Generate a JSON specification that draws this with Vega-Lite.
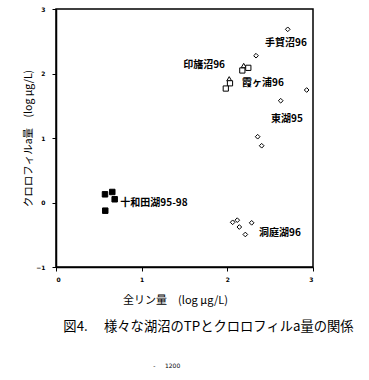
{
  "$schema": "https://vega.github.io/schema/vega-lite/v6.json",
  "autosize": "none",
  "width": 257,
  "height": 258,
  "padding": {"left": 56, "top": 9, "right": 56, "bottom": 113},
  "background": "white",
  "config": {
    "view": {"stroke": "black", "strokeWidth": 1.5},
    "font": "Noto Sans CJK JP"
  },
  "title": {
    "text": "図4.　 様々な湖沼のTPとクロロフィルa量の関係",
    "subtitle": "-\u00a0\u00a0\u00a0\u00a0\u00a01200\u2800\u2800\u2800\u2800\u2800\u2800\u2800\u2800\u2800\u2800\u2800\u2800\u2800\u2800\u2800\u2800\u2800\u2800\u2800",
    "orient": "bottom",
    "anchor": "middle",
    "dx": 24,
    "offset": 15,
    "fontSize": 13.3,
    "fontWeight": "normal",
    "font": "Noto Sans CJK JP",
    "color": "black",
    "subtitleFontSize": 6,
    "subtitleFont": "DejaVu Sans",
    "subtitleColor": "black",
    "subtitlePadding": 30
  },
  "datasets": {
    "points": [
      {"lake": "十和田湖95-98", "marker": "filled", "tp": 0.572, "chl": 0.127},
      {"lake": "十和田湖95-98", "marker": "filled", "tp": 0.657, "chl": 0.163},
      {"lake": "十和田湖95-98", "marker": "filled", "tp": 0.685, "chl": 0.05},
      {"lake": "十和田湖95-98", "marker": "filled", "tp": 0.575, "chl": -0.127},
      {"lake": "洞庭湖96", "marker": "diamond", "tp": 2.062, "chl": -0.307},
      {"lake": "洞庭湖96", "marker": "diamond", "tp": 2.116, "chl": -0.274},
      {"lake": "洞庭湖96", "marker": "diamond", "tp": 2.14, "chl": -0.38},
      {"lake": "洞庭湖96", "marker": "diamond", "tp": 2.21, "chl": -0.496},
      {"lake": "洞庭湖96", "marker": "diamond", "tp": 2.284, "chl": -0.315},
      {"lake": "東湖95", "marker": "diamond", "tp": 2.354, "chl": 1.02},
      {"lake": "東湖95", "marker": "diamond", "tp": 2.401, "chl": 0.88},
      {"lake": "手賀沼96", "marker": "diamond", "tp": 2.705, "chl": 2.685},
      {"lake": "手賀沼96", "marker": "diamond", "tp": 2.335, "chl": 2.276},
      {"lake": "東湖95", "marker": "diamond", "tp": 2.926, "chl": 1.744},
      {"lake": "東湖95", "marker": "diamond", "tp": 2.623, "chl": 1.578},
      {"lake": "印旛沼96", "marker": "square", "tp": 2.175, "chl": 2.047},
      {"lake": "印旛沼96", "marker": "triangle", "tp": 2.191, "chl": 2.124},
      {"lake": "印旛沼96", "marker": "square", "tp": 2.245, "chl": 2.088},
      {"lake": "霞ヶ浦96", "marker": "triangle", "tp": 2.022, "chl": 1.918},
      {"lake": "霞ヶ浦96", "marker": "square", "tp": 2.031, "chl": 1.848},
      {"lake": "霞ヶ浦96", "marker": "square", "tp": 1.982, "chl": 1.767}
    ],
    "labels": [
      {"label": "手賀沼96", "tp": 2.685, "chl": 2.473},
      {"label": "印旛沼96", "tp": 1.728, "chl": 2.132},
      {"label": "霞ヶ浦96", "tp": 2.416, "chl": 1.853},
      {"label": "東湖95", "tp": 2.696, "chl": 1.295},
      {"label": "十和田湖95-98", "tp": 1.144, "chl": -0.008},
      {"label": "洞庭湖96", "tp": 2.615, "chl": -0.473}
    ]
  },
  "encoding": {
    "x": {
      "field": "tp", "type": "quantitative",
      "scale": {"domain": [0, 3], "nice": false, "zero": false},
      "axis": {
        "title": "全リン量　(log μg/L)",
        "titleFont": "Noto Sans CJK JP", "titleFontSize": 11, "titleFontWeight": "normal",
        "titleColor": "black", "titleX": 119, "titlePadding": 12,
        "values": [0, 1, 2, 3], "format": "d", "grid": false,
        "domainColor": "black", "domainWidth": 1.5,
        "tickColor": "black", "tickSize": 4, "tickWidth": 1,
        "labelFont": "DejaVu Sans", "labelFontSize": 6, "labelFontWeight": "bold",
        "labelColor": "black", "labelPadding": 5
      }
    },
    "y": {
      "field": "chl", "type": "quantitative",
      "scale": {"domain": [-1, 3], "nice": false, "zero": false},
      "axis": {
        "title": "クロロフィルa量　(log μg/L)",
        "titleFont": "Noto Sans CJK JP", "titleFontSize": 10.5, "titleFontWeight": "normal",
        "titleColor": "black", "titlePadding": 2,
        "values": [-1, 0, 1, 2, 3], "format": "d", "grid": false,
        "domainColor": "black", "domainWidth": 1.5,
        "tickColor": "black", "tickSize": 4, "tickWidth": 1,
        "labelFont": "DejaVu Sans", "labelFontSize": 6, "labelFontWeight": "bold",
        "labelColor": "black", "labelPadding": 7
      }
    }
  },
  "layer": [
    {
      "data": {"name": "points"},
      "mark": {"type": "point", "stroke": "black", "strokeWidth": 1, "opacity": 1, "filled": false},
      "encoding": {
        "shape": {
          "field": "marker", "type": "nominal",
          "scale": {"domain": ["filled", "square", "triangle", "diamond"], "range": ["square", "square", "triangle-up", "diamond"]},
          "legend": null
        },
        "fill": {
          "field": "marker", "type": "nominal",
          "scale": {"domain": ["filled", "square", "triangle", "diamond"], "range": ["black", "white", "white", "white"]},
          "legend": null
        },
        "size": {
          "field": "marker", "type": "nominal",
          "scale": {"domain": ["filled", "square", "triangle", "diamond"], "range": [30, 22, 22, 22]},
          "legend": null
        }
      }
    },
    {
      "data": {"name": "labels"},
      "mark": {"type": "text", "font": "Noto Sans CJK JP", "fontSize": 10, "fontWeight": "bold", "color": "black", "align": "center", "baseline": "middle"},
      "encoding": {"text": {"field": "label"}}
    }
  ]
}
